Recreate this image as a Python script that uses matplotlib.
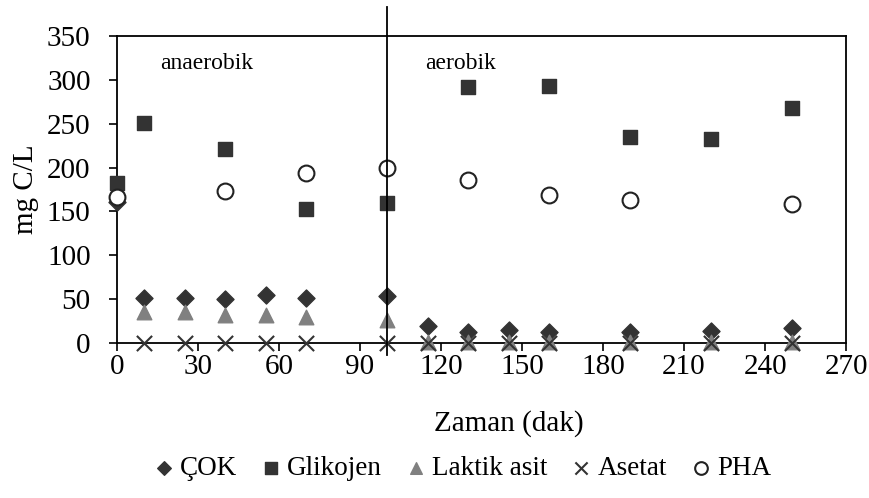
import numpy as np
import matplotlib
matplotlib.use("Agg")
import matplotlib.pyplot as plt

plt.rcParams['font.family'] = ['Liberation Serif', 'DejaVu Serif']

# data (time in min, values in mg C/L)
t_cok = [0, 10, 25, 40, 55, 70, 100, 115, 130, 145, 160, 190, 220, 250]
cok = [161, 51, 52, 50, 55, 51, 54, 20, 13, 15, 13, 13, 14, 17]

t_gli = [0, 10, 40, 70, 100, 130, 160, 190, 220, 250]
glikojen = [182, 251, 221, 153, 160, 292, 293, 235, 232, 268]

t_lak = [10, 25, 40, 55, 70, 100, 115, 130, 145, 160, 190, 220, 250]
laktik = [36, 36, 32, 32, 30, 27, 2, 2, 2, 2, 2, 2, 2]

t_ase = [10, 25, 40, 55, 70, 100, 115, 130, 145, 160, 190, 220, 250]
asetat = [0, 0, 0, 0, 0, 0, 0, 0, 0, 0, 0, 0, 0]

t_pha = [0, 40, 70, 100, 130, 160, 190, 250]
pha = [167, 173, 194, 199, 186, 169, 163, 159]

fig = plt.figure(figsize=(8.7, 4.98), dpi=100)
ax = fig.add_axes([0.1345, 0.3106, 0.838, 0.6177])

ax.scatter(t_cok, cok, marker='D', s=75, color='#333333', label='ÇOK', zorder=3, clip_on=False)
ax.scatter(t_gli, glikojen, marker='s', s=110, color='#333333', label='Glikojen', zorder=3, clip_on=False)
ax.scatter(t_lak, laktik, marker='^', s=110, color='#808080', label='Laktik asit', zorder=3, clip_on=False)
ax.scatter(t_ase, asetat, marker='x', s=120, color='#333333', linewidths=1.5, label='Asetat',
           zorder=4, clip_on=False)
ax.scatter(t_pha, pha, marker='o', s=130, facecolor='white', edgecolor='#222222',
           linewidths=1.5, label='PHA', zorder=3, clip_on=False)

# phase divider
ax.plot([100, 100], [-13, 383], color='black', lw=1.3, clip_on=False, zorder=5)

ax.text(16, 318, 'anaerobik', fontsize=17, va='center')
ax.text(114, 318, 'aerobik', fontsize=17, va='center')

ax.set_xlim(0, 270)
ax.set_ylim(0, 350)
ax.set_xticks(np.arange(0, 271, 30))
ax.set_yticks(np.arange(0, 351, 50))
ax.tick_params(labelsize=21, direction='out', length=6, width=1.2)
ax.tick_params(axis='y', pad=13)
ax.tick_params(axis='x', pad=2)
for s in ax.spines.values():
    s.set_linewidth(1.3)
ax.set_xlabel('Zaman (dak)', fontsize=21, va='center')
ax.xaxis.set_label_coords(0.538, -0.262)
ax.set_ylabel('mg C/L', fontsize=21, labelpad=6)

fig.legend(loc='center', bbox_to_anchor=(0.531, 0.06), ncol=5, frameon=False,
           fontsize=19.5, handlelength=0.8, handletextpad=0.2, columnspacing=0.85,
           markerscale=0.8)

fig.savefig('out.png', dpi=100)
